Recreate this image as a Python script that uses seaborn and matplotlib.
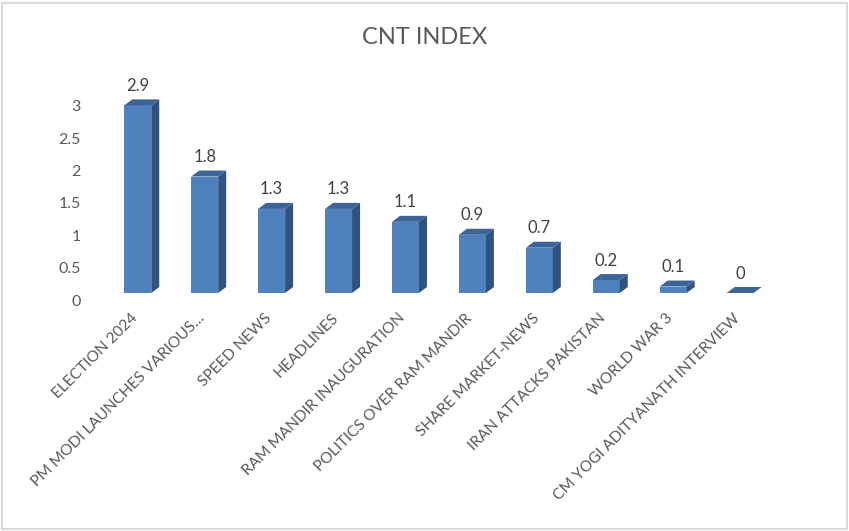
import matplotlib
matplotlib.use("Agg")
import matplotlib.pyplot as plt
import matplotlib.transforms as mtransforms
from matplotlib.patches import Polygon, Rectangle
import seaborn as sns
import pandas as pd

categories = ["ELECTION 2024", "PM MODI LAUNCHES VARIOUS…", "SPEED NEWS", "HEADLINES",
              "RAM MANDIR INAUGURATION", "POLITICS OVER RAM MANDIR", "SHARE MARKET-NEWS",
              "IRAN ATTACKS PAKISTAN", "WORLD WAR 3", "CM YOGI ADITYANATH INTERVIEW"]
values = [2.9, 1.8, 1.3, 1.3, 1.1, 0.9, 0.7, 0.2, 0.1, 0]
value_labels = ["2.9", "1.8", "1.3", "1.3", "1.1", "0.9", "0.7", "0.2", "0.1", "0"]
yticks = [0, 0.5, 1, 1.5, 2, 2.5, 3]
ytick_labels = ["0", "0.5", "1", "1.5", "2", "2.5", "3"]
title = "CNT INDEX"

sns.set_theme(style="white")
plt.rcParams['font.family'] = ['Lato', 'DejaVu Sans']

W, H = 849, 531
fig = plt.figure(figsize=(W / 100, H / 100), dpi=100)
ax = fig.add_axes([104.3 / W, (H - 293) / H, 669.3 / W, 194.1 / H])

df = pd.DataFrame({"cat": categories, "val": values})
sns.barplot(data=df, x="cat", y="val", color="#4F81BD", saturation=1, width=0.403, ax=ax,
            edgecolor="none")

ax.set_xlim(-0.5, len(categories) - 0.5)
ax.set_ylim(0, 3)
ax.set_xlabel("")
ax.set_ylabel("")
for s in ax.spines.values():
    s.set_visible(False)
ax.grid(False)

# 3D depth in data units
dx = 8 / (669.3 / len(categories))
dy = 6 / (194.1 / 3)

for bar, lab in zip(ax.containers[0], value_labels):
    x0 = bar.get_x()
    x1 = x0 + bar.get_width()
    h = bar.get_height()
    side = Polygon([(x1, 0), (x1 + dx, dy), (x1 + dx, h + dy), (x1, h)], closed=True,
                   facecolor="#30527F", edgecolor="none", clip_on=False)
    top = Polygon([(x0, h), (x0 + dx, h + dy), (x1 + dx, h + dy), (x1, h)], closed=True,
                  facecolor="#3C6497", edgecolor="none", clip_on=False)
    ax.add_patch(side)
    ax.add_patch(top)
    ax.annotate(lab, (x0 + bar.get_width() / 2, h), xytext=(0, 14), textcoords="offset points",
                ha="center", va="center", fontsize=12, color="#404040")

ax.set_yticks(yticks)
ax.set_yticklabels(ytick_labels, fontsize=11.5, color="#595959")
ax.tick_params(axis="y", length=0, pad=17)
ax.tick_params(axis="x", length=0, pad=13)
ax.set_xticks(range(len(categories)))
ax.set_xticklabels(categories, rotation=45, ha="right", va="top", rotation_mode="anchor",
                   fontsize=11.2, color="#595959")

off = mtransforms.ScaledTranslation(0, -0.07, fig.dpi_scale_trans)
for t in ax.get_yticklabels():
    t.set_transform(t.get_transform() + off)
offx = mtransforms.ScaledTranslation(-0.075, 0, fig.dpi_scale_trans)
for t in ax.get_xticklabels():
    t.set_transform(t.get_transform() + offx)

fig.text(424.5 / W, 1 - 38 / H, title, ha="center", va="center", fontsize=17, color="#595959")

fig.patches.append(Rectangle((1.5 / W, 2.5 / H), (W - 4) / W, (H - 5) / H, transform=fig.transFigure,
                             fill=False, edgecolor="#D9D9D9", linewidth=1.5))

fig.savefig("out.png", dpi=100)
